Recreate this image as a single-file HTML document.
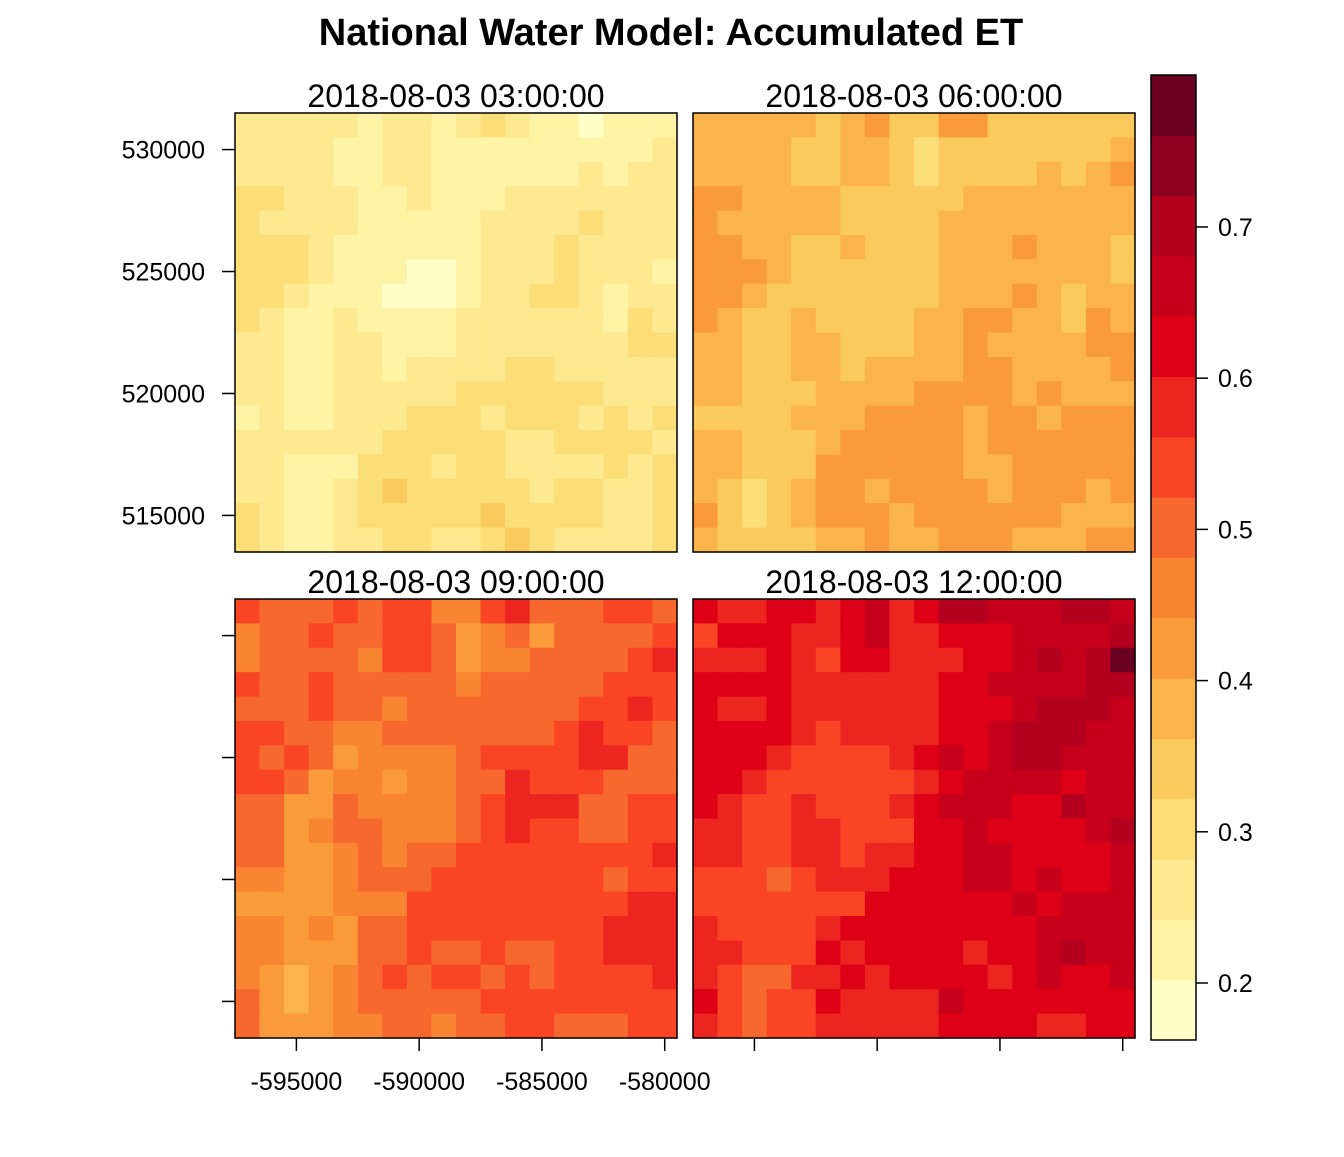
<!DOCTYPE html>
<html><head><meta charset="utf-8"><style>
body{margin:0;background:#fff;}
svg text{font-family:"Liberation Sans",Arial,sans-serif;fill:#000;}
</style></head><body>
<svg id="chart" width="1344" height="1152" viewBox="0 0 1344 1152" xmlns="http://www.w3.org/2000/svg">
<text x="671" y="45" text-anchor="middle" font-size="38" font-weight="bold">National Water Model: Accumulated ET</text>
<g id="panels"></g>
<g id="axes"></g>
<g id="colorbar"></g>
</svg>
<script>
// color level breaks (value range split into 16 classes)
const levelMin = 0.1623;
const levelMax = 0.8005;
const palette = ["#FFFFC8","#FFF3A6","#FDE98F","#FCDE78","#FBCA5F","#FBB44C","#F99B3B","#F98532","#F6682E","#FA4525","#EC2520","#DD0016","#C6001A","#B2001E","#8D0020","#6A0021"];
const panelTitles = ["2018-08-03 03:00:00","2018-08-03 06:00:00","2018-08-03 09:00:00","2018-08-03 12:00:00"];
const xTicks = [-595000,-590000,-585000,-580000];
const yTicks = [530000,525000,520000,515000];
const cbTicks = [0.2,0.3,0.4,0.5,0.6,0.7];
// grid class indices (hex digit per cell, rows top->bottom)
const grid03 = ["222221221232110111","222211221111111112","222211221111112122","332221121112222222","322221111122223222","333211111122232222","333211100122232221","332111000122332122","321121111222222132","221122111222222233","221122122223322222","221122222333333222","121122233323332323","222222333332233332","221113332332222323","221123433333233223","321123333343333223","321122332234322223"];
const grid06 = ["555554564466444444","555544554344444445","555544554344445456","665555444445555555","655555444455555555","665544544455565554","666544444455555554","665444444455565455","654454444556655465","554455444556555566","554455455556655556","554445555666656555","444455566665665666","554445666665666666","554446666665566666","543456656666566656","643456665666666555","544445565566655566"];
const grid09 = ["98889899779a888998","788988998678688889","78888799867788889a","988988888788888999","8889887888888899a9","99887788888889a998","98986777789999aa88","99867767788a999888","88668777789aaa8899","88678877789a998899","88667878899999999a","776678889999999899","6666777999999999aa","776768899999999aaa","776668898898899aaa","76567898998989999a","865678888899999999","866677887889988899"];
const grid12 = ["baabbabcabddcccddc","9bbbaabcaabbbccccd","aaaba9bbaaabbcdcdf","bbbbaaaaaabbccccdd","baabaaaaaabbbcdddc","bbbba9aaaabbcdddcc","bbba9999abcbcddccc","bba999999abccccbcc","ba99a999abcccbbdcc","aa99aa999bbcbbbbcd","aa99aa9aabbccbbbbc","99989aaabbbccbcbbc","9999999bbbbbbcbccc","a9999abbbbbbbbcccc","aa999babbbbabbcdcc","a988aababbbbabcbbc","b9899baaaacbbbbbbb","a9899aaaaabbbbaabb"];
const grids = [grid03,grid06,grid09,grid12];

const NS="http://www.w3.org/2000/svg";
function mk(tag,attrs,parent){const e=document.createElementNS(NS,tag);for(const k in attrs)e.setAttribute(k,attrs[k]);parent.appendChild(e);return e;}
// axis scales
const xDom=[-597500,-579500], yDom=[513500,531500];
const panelBoxes=[{x:235,y:113},{x:693,y:113},{x:235,y:599},{x:693,y:599}];
const PW=442, PH=439;
function xs(b,v){return b.x+(v-xDom[0])/(xDom[1]-xDom[0])*PW;}
function ys(b,v){return b.y+(yDom[1]-v)/(yDom[1]-yDom[0])*PH;}
const nLev=palette.length, step=(levelMax-levelMin)/nLev;
function colorFor(val){let i=Math.floor((val-levelMin)/step);i=Math.max(0,Math.min(nLev-1,i));return palette[i];}

const gp=document.getElementById('panels');
grids.forEach((g,pi)=>{
  const b=panelBoxes[pi];
  const grp=mk('g',{},gp);
  
  
  const rows=g.length, cols=g[0].length;
  const cw=(xDom[1]-xDom[0])/cols, ch=(yDom[1]-yDom[0])/rows;
  g.forEach((row,r)=>{
    for(let c=0;c<cols;c++){
      const val=levelMin+(parseInt(row[c],16)+0.5)*step;
      const x0=xs(b,xDom[0]+c*cw), x1=xs(b,xDom[0]+(c+1)*cw);
      const y0=ys(b,yDom[1]-r*ch), y1=ys(b,yDom[1]-(r+1)*ch);
      const rc=mk('rect',{x:x0,y:y0,width:x1-x0+0.6,height:y1-y0+0.6,fill:colorFor(val)},grp);
      
      
    }
  });
  const fr=mk('rect',{x:b.x,y:b.y,width:PW,height:PH,fill:'none',stroke:'#000','stroke-width':1.5},grp);
  
  
  const t=mk('text',{x:b.x+PW/2,y:b.y-6,'text-anchor':'middle','font-size':32},grp);
  t.textContent=panelTitles[pi];
  
  
});

const ga=document.getElementById('axes');
[0,2].forEach(pi=>{
  const b=panelBoxes[pi];
  yTicks.forEach(v=>{
    const y=ys(b,v);
    const l=mk('line',{x1:b.x-13,x2:b.x,y1:y,y2:y,stroke:'#000','stroke-width':1.5},ga);
    
    
    if(pi===0){
      const t=mk('text',{x:b.x-30,y:y+9,'text-anchor':'end','font-size':25},ga);
      t.textContent=String(v);
      
      
    }
  });
});
[2,3].forEach(pi=>{
  const b=panelBoxes[pi];
  xTicks.forEach(v=>{
    const x=xs(b,v);
    const l=mk('line',{x1:x,x2:x,y1:b.y+PH,y2:b.y+PH+13,stroke:'#000','stroke-width':1.5},ga);
    
    
    if(pi===2){
      const t=mk('text',{x:x,y:b.y+PH+52,'text-anchor':'middle','font-size':25},ga);
      t.textContent=String(v);
      
      
    }
  });
});

const gc=document.getElementById('colorbar');
const cb={x:1151,y:75,w:45,h:965};
function cby(v){return cb.y+(levelMax-v)/(levelMax-levelMin)*cb.h;}
palette.forEach((col,i)=>{
  const v0=levelMin+i*step, v1=v0+step;
  const r=mk('rect',{x:cb.x,y:cby(v1),width:cb.w,height:cby(v0)-cby(v1)+0.5,fill:col},gc);
  
  
});
const cf=mk('rect',{x:cb.x,y:cb.y,width:cb.w,height:cb.h,fill:'none',stroke:'#000','stroke-width':1.5},gc);


cbTicks.forEach(v=>{
  const y=cby(v);
  const l=mk('line',{x1:cb.x+cb.w,x2:cb.x+cb.w+12,y1:y,y2:y,stroke:'#000','stroke-width':1.5},gc);
  
  
  const t=mk('text',{x:cb.x+cb.w+22,y:y+9,'font-size':25},gc);
  t.textContent=v.toFixed(1);
  
  
});
</script>
</body></html>
